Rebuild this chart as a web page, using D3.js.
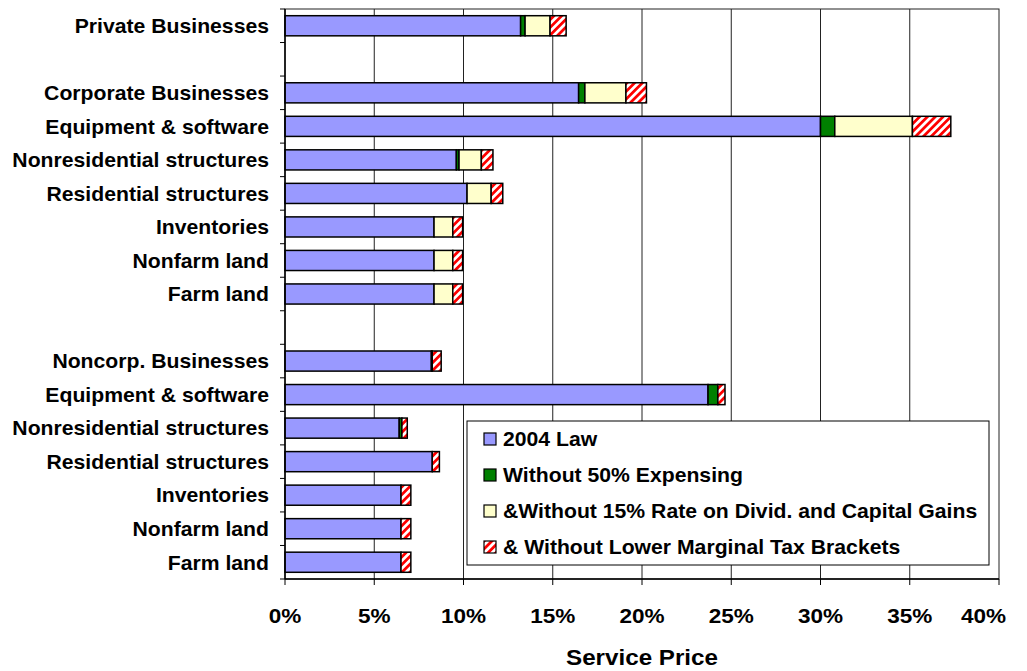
<!DOCTYPE html>
<html>
<head>
<meta charset="utf-8">
<script src="https://cdn.jsdelivr.net/npm/d3@7"></script>
<style>
  html, body { margin: 0; padding: 0; background: #fff; }
  svg { display: block; }
  text { font-family: "Liberation Sans", Arial, sans-serif; font-weight: bold; fill: #000; }
</style>
</head>
<body>
<svg id="chart" width="1027" height="671"></svg>
<script>
// Row labels, top to bottom ("" marks a spacer row)
const categories = [
  "Private Businesses", "",
  "Corporate Businesses", "Equipment & software", "Nonresidential structures",
  "Residential structures", "Inventories", "Nonfarm land", "Farm land", "",
  "Noncorp. Businesses", "Equipment & software", "Nonresidential structures",
  "Residential structures", "Inventories", "Nonfarm land", "Farm land"
];

// Stacked components of the service price (percent)
const law2004   = [13.2, null, 16.45, 30.0, 9.6, 10.2, 8.35, 8.35, 8.35, null, 8.2, 23.7, 6.4, 8.25, 6.5, 6.5, 6.5];
const expensing = [0.25, null, 0.35, 0.8, 0.15, 0, 0, 0, 0, null, 0.05, 0.55, 0.15, 0, 0, 0, 0];
const dividends = [1.4, null, 2.3, 4.35, 1.25, 1.35, 1.05, 1.05, 1.05, null, 0, 0, 0, 0, 0, 0, 0];
const brackets  = [0.9, null, 1.15, 2.15, 0.65, 0.65, 0.55, 0.55, 0.55, null, 0.5, 0.4, 0.3, 0.4, 0.55, 0.55, 0.55];

const seriesNames = [
  "2004 Law",
  "Without 50% Expensing",
  "&Without 15% Rate on Divid. and Capital Gains",
  "& Without Lower Marginal Tax Brackets"
];
const xTicks = [0, 5, 10, 15, 20, 25, 30, 35, 40];

const svg = d3.select("#chart");
const plotL = 285, plotR = 999, plotT = 9, plotB = 579;
const stretch = 1.06; // horizontal stretch of label text

const defs = svg.append("defs");
const hatch = defs.append("pattern")
  .attr("id", "hatch")
  .attr("patternUnits", "userSpaceOnUse")
  .attr("width", 5.5).attr("height", 5.5)
  .attr("patternTransform", "rotate(45)");
hatch.append("rect").attr("width", 5.5).attr("height", 5.5).attr("fill", "#fff");
hatch.append("rect").attr("width", 2.75).attr("height", 5.5).attr("fill", "#ff0000");

const fills = ["#9999ff", "#008000", "#ffffcc", "url(#hatch)"];

const x = d3.scaleLinear().domain([0, 40]).range([plotL, plotR]);
const y = d3.scaleBand().domain(d3.range(categories.length)).range([plotT, plotB])
  .paddingInner(0.4).paddingOuter(0.2);

// Vertical gridlines
svg.append("g").selectAll("line").data(xTicks.slice(1, -1)).join("line")
  .attr("x1", d => x(d)).attr("x2", d => x(d))
  .attr("y1", plotT).attr("y2", plotB)
  .attr("stroke", "#222").attr("stroke-width", 1);

// Plot frame
svg.append("rect").attr("x", plotL).attr("y", plotT)
  .attr("width", plotR - plotL).attr("height", plotB - plotT)
  .attr("fill", "none").attr("stroke", "#222").attr("stroke-width", 1);

// Stacked bars
const series = [law2004, expensing, dividends, brackets];
const rows = categories.map((c, i) => ({ i, vals: series.map(s => s[i]) }))
  .filter(r => r.vals[0] != null);
const segs = [];
rows.forEach(r => {
  let acc = 0;
  r.vals.forEach((v, k) => {
    if (v > 0) segs.push({ i: r.i, k, x0: acc, x1: acc + v });
    acc += v;
  });
});
svg.append("g").selectAll("rect").data(segs).join("rect")
  .attr("x", d => x(d.x0))
  .attr("y", d => y(d.i))
  .attr("width", d => x(d.x1) - x(d.x0))
  .attr("height", y.bandwidth())
  .attr("fill", d => fills[d.k])
  .attr("stroke", "#000").attr("stroke-width", 1.5);

// Category axis
const yAxisG = svg.append("g");
yAxisG.append("line").attr("x1", plotL).attr("x2", plotL).attr("y1", plotT).attr("y2", plotB)
  .attr("stroke", "#000").attr("stroke-width", 1.5);
const bounds = d3.range(categories.length + 1).map(i => plotT + i * y.step());
yAxisG.selectAll("line.tick").data(bounds).join("line").attr("class", "tick")
  .attr("x1", plotL - 5).attr("x2", plotL).attr("y1", d => d).attr("y2", d => d)
  .attr("stroke", "#000").attr("stroke-width", 1);
yAxisG.selectAll("text").data(categories.map((c, i) => ({ c, i })).filter(d => d.c)).join("text")
  .attr("transform", d => `translate(${plotL - 16},${y(d.i) + y.bandwidth() / 2}) scale(${stretch},1)`)
  .attr("text-anchor", "end").attr("dominant-baseline", "central")
  .style("font-size", "20px")
  .text(d => d.c);

// Value axis
const xAxisG = svg.append("g");
xAxisG.append("line").attr("x1", plotL).attr("x2", plotR).attr("y1", plotB).attr("y2", plotB)
  .attr("stroke", "#000").attr("stroke-width", 1.5);
xAxisG.selectAll("line.tick").data(xTicks).join("line").attr("class", "tick")
  .attr("x1", d => x(d)).attr("x2", d => x(d)).attr("y1", plotB).attr("y2", plotB + 6)
  .attr("stroke", "#000").attr("stroke-width", 1);
const lastTick = xTicks[xTicks.length - 1];
xAxisG.selectAll("text").data(xTicks).join("text")
  .attr("transform", d => d === lastTick
    ? `translate(${x(d) + 7},${plotB + 37}) scale(1.1,1)`
    : `translate(${x(d)},${plotB + 37}) scale(1.1,1)`)
  .attr("text-anchor", d => d === lastTick ? "end" : "middle")
  .attr("dominant-baseline", "central")
  .style("font-size", "20.5px")
  .text(d => d + "%");

svg.append("text")
  .attr("transform", `translate(${(plotL + plotR) / 2},${657}) scale(1.1,1)`)
  .attr("text-anchor", "middle").attr("dominant-baseline", "central")
  .style("font-size", "22px")
  .text("Service Price");

// Legend
const lg = svg.append("g");
lg.append("rect").attr("x", 467).attr("y", 421).attr("width", 522).attr("height", 144)
  .attr("fill", "#fff").attr("stroke", "#000").attr("stroke-width", 1);
const legendY = d3.scalePoint().domain(d3.range(seriesNames.length)).range([439, 547]);
const items = lg.selectAll("g.item").data(seriesNames).join("g").attr("class", "item")
  .attr("transform", (d, k) => `translate(484,${legendY(k)})`);
items.append("rect").attr("x", 0).attr("y", -6).attr("width", 12).attr("height", 12)
  .attr("fill", (d, k) => fills[k]).attr("stroke", "#000").attr("stroke-width", 1.2);
items.append("text")
  .attr("transform", `translate(19,0) scale(${stretch},1)`)
  .attr("dominant-baseline", "central")
  .style("font-size", "20px")
  .text(d => d);
</script>
</body>
</html>
